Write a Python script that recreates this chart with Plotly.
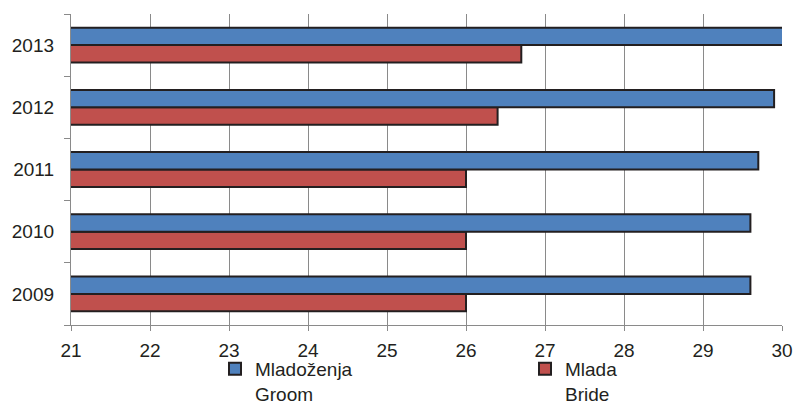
import plotly.graph_objects as go

years = ["2009", "2010", "2011", "2012", "2013"]
groom = [29.6, 29.6, 29.7, 29.9, 30.1]
bride = [26.0, 26.0, 26.0, 26.4, 26.7]
groom_label = "Mladoženja<br>Groom"
bride_label = "Mlada<br>Bride"
x_ticks = [21, 22, 23, 24, 25, 26, 27, 28, 29, 30]

FONT = "Liberation Sans, Arial, sans-serif"
TXT = "#231f20"
GRID = "#8a8a8a"

fig = go.Figure()
fig.add_trace(go.Bar(
    y=years, x=bride, orientation="h", name=bride_label,
    marker=dict(color="#C0504D", line=dict(color="#231f20", width=2)),
))
fig.add_trace(go.Bar(
    y=years, x=groom, orientation="h", name=groom_label,
    marker=dict(color="#4F81BD", line=dict(color="#231f20", width=2)),
))

fig.update_layout(
    width=796, height=405,
    margin=dict(l=71, r=14, t=14, b=80, autoexpand=False),
    paper_bgcolor="white", plot_bgcolor="white",
    barmode="group", bargap=0.44, bargroupgap=0,
    font=dict(family=FONT, size=19, color=TXT),
    showlegend=True,
    legend=dict(
        orientation="h", traceorder="reversed",
        xref="container", yref="container",
        x=215/796, xanchor="left",
        y=1 - 350/405, yanchor="top",
        entrywidth=265, entrywidthmode="pixels",
        valign="top", font=dict(family=FONT, size=19, color=TXT),
        bgcolor="rgba(0,0,0,0)", itemclick=False,
    ),
    xaxis=dict(
        range=[21, 30], tickvals=x_ticks, ticktext=[str(v) for v in x_ticks],
        showgrid=True, gridcolor=GRID, gridwidth=1.3,
        showline=True, linecolor=GRID, linewidth=1.3,
        ticks="outside", ticklen=5, tickcolor=GRID, tickwidth=1.3,
        ticklabelstandoff=3, automargin=False,
        zeroline=False, fixedrange=True,
    ),
    yaxis=dict(
        type="category", categoryorder="array", categoryarray=years,
        showgrid=False, showline=True, linecolor=GRID, linewidth=1.3,
        ticks="outside", tickson="boundaries", ticklen=6, tickcolor=GRID, tickwidth=1.3,
        ticklabelstandoff=12, automargin=False, zeroline=False, fixedrange=True,
    ),
)

fig.write_html(
    "out.html",
    config={"displayModeBar": False},
    post_script="document.body.style.margin='0';document.body.style.padding='0';",
)
